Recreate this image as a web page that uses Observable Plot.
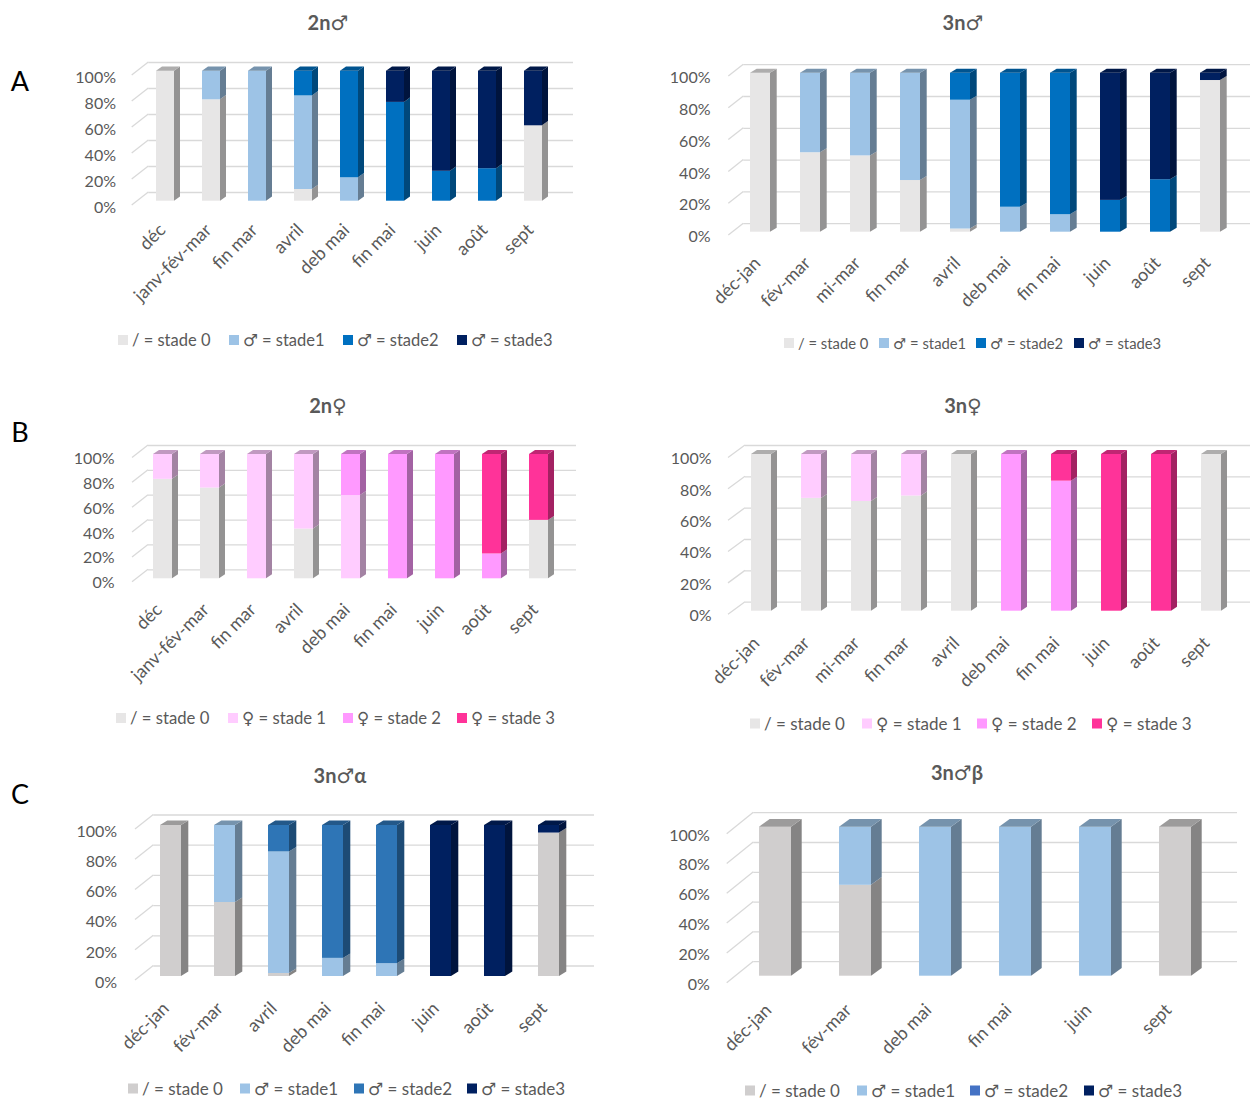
<!DOCTYPE html>
<html><head><meta charset="utf-8">
<script src="https://cdn.jsdelivr.net/npm/d3@7"></script>
<script src="https://cdn.jsdelivr.net/npm/@observablehq/plot@0.6"></script>
<style>
html,body{margin:0;padding:0;background:#fff;}
body{width:1250px;height:1099px;position:relative;overflow:hidden;font-family:Lato,"DejaVu Sans",sans-serif;}
.panel{position:absolute;width:625px;}
.title{position:absolute;transform:translate(-50%,-50%);font-weight:bold;font-size:20px;color:#595959;white-space:nowrap;}
.letter{position:absolute;transform:translate(-50%,-50%);font-size:27px;color:#000;}
.legi{position:absolute;display:flex;align-items:center;white-space:nowrap;color:#595959;transform:translateY(-50%);}
.sw{width:10px;height:10px;margin-right:4px;flex:none;}
</style></head><body>
<script>
// ---------- data ----------
const catsA2 = ["déc","janv-fév-mar","fin mar","avril","deb mai","fin mai","juin","août","sept"];
const cats3  = ["déc-jan","fév-mar","mi-mar","fin mar","avril","deb mai","fin mai","juin","août","sept"];
const catsCa = ["déc-jan","fév-mar","avril","deb mai","fin mai","juin","août","sept"];
const catsCb = ["déc-jan","fév-mar","deb mai","fin mai","juin","sept"];

// 2n male (%)
const m2_s0 = [100,78,0,9,0,0,0,0,58];
const m2_s1 = [0,22,100,72,18,0,0,0,0];
const m2_s2 = [0,0,0,19,82,76,23,25,0];
const m2_s3 = [0,0,0,0,0,24,77,75,42];
// 3n male (%)
const m3_s0 = [100,50,48,32.5,2,0,0,0,0,95.4];
const m3_s1 = [0,50,52,67.5,81,15.7,11,0,0,0];
const m3_s2 = [0,0,0,0,17,84.3,89,20,33,0];
const m3_s3 = [0,0,0,0,0,0,0,80,67,4.6];
// 2n female (%)
const f2_s0 = [80,73,0,40,0,0,0,0,47];
const f2_s1 = [20,27,100,60,67,0,0,0,0];
const f2_s2 = [0,0,0,0,33,100,100,20,0];
const f2_s3 = [0,0,0,0,0,0,0,80,53];
// 3n female (%)
const f3_s0 = [100,72,70,73.5,100,0,0,0,0,100];
const f3_s1 = [0,28,30,26.5,0,0,0,0,0,0];
const f3_s2 = [0,0,0,0,0,100,83,0,0,0];
const f3_s3 = [0,0,0,0,0,0,17,100,100,0];
// 3n male alpha (%)
const ma_s0 = [100,49,2,0,0,0,0,95];
const ma_s1 = [0,51,80.5,12,8.5,0,0,0];
const ma_s2 = [0,0,17.5,88,91.5,0,0,0];
const ma_s3 = [0,0,0,0,0,100,100,5];
// 3n male beta (%)
const mb_s0 = [100,61,0,0,0,100];
const mb_s1 = [0,39,100,100,100,0];
const mb_s2 = [0,0,0,0,0,0];
const mb_s3 = [0,0,0,0,0,0];

const yTicks = [0,20,40,60,80,100];
const legendMale   = ["/ = stade 0","♂ = stade1","♂ = stade2","♂ = stade3"];
const legendFemale = ["/ = stade 0","♀ = stade 1","♀ = stade 2","♀ = stade 3"];
const titles  = ["2n♂","3n♂","2n♀","3n♀","3n♂α","3n♂β"];
const letters = ["A","B","C"];

// ---------- styles ----------
const colMale   = ["#e7e6e6","#9dc3e6","#0070c0","#002060"];
const colFemale = ["#e7e6e6","#ffccff","#ff99ff","#ff3399"];
const colCa     = ["#d0cece","#9dc3e6","#2e75b6","#002060"];
const colCb     = ["#d0cece","#9dc3e6","#4472c4","#002060"];
const FONT = "Lato, 'DejaVu Sans', sans-serif";
const TXT = "#595959";
const GRID = "#d9d9d9";

// ---------- layout (page coordinates) ----------
const panels = [
 {title: titles[0], cats: catsA2, series: [m2_s0,m2_s1,m2_s2,m2_s3], colors: colMale, legend: legendMale,
  left: 0, top: 30, h: 300,
  bar: {x0: 152.3, step: 47, w: 18.7, y0: 200.7, y100: 70.7, ddx: 6, ddy: -4.3},
  grid: {xf: 131.7, xb: 148.3, xr: 573, dyf: 4.3, dyb: -8.7},
  tick: {xr: 115.5, dy: 6.5}, xl: {dx: -3, dy: 26},
  tpos: [328, 22], leg: {y: 340, xs: [118,229,343,457], fs: 16.5}},
 {title: titles[1], cats: cats3, series: [m3_s0,m3_s1,m3_s2,m3_s3], colors: colMale, legend: legendMale,
  left: 625, top: 30, h: 300,
  bar: {x0: 748.3, step: 50.3, w: 20, y0: 231.7, y100: 72.7, ddx: 6.7, ddy: -4},
  grid: {xf: 728.3, xb: 743.3, xr: 1250, dyf: 3.3, dyb: -8.5},
  tick: {xr: 710, dy: 4.8}, xl: {dx: -3, dy: 28},
  tpos: [963, 22], leg: {y: 343, xs: [784,879,976,1074], fs: 14.8}},
 {title: titles[2], cats: catsA2, series: [f2_s0,f2_s1,f2_s2,f2_s3], colors: colFemale, legend: legendFemale,
  left: 0, top: 415, h: 300,
  bar: {x0: 151.2, step: 47.4, w: 18.8, y0: 578.3, y100: 454, ddx: 6, ddy: -4},
  grid: {xf: 132, xb: 148, xr: 576, dyf: 3.5, dyb: -9},
  tick: {xr: 114, dy: 4.4}, xl: {dx: -4, dy: 28},
  tpos: [328, 405], leg: {y: 718, xs: [116,228,343,457], fs: 16.7}},
 {title: titles[3], cats: cats3, series: [f3_s0,f3_s1,f3_s2,f3_s3], colors: colFemale, legend: legendFemale,
  left: 625, top: 415, h: 300,
  bar: {x0: 749, step: 50.4, w: 20, y0: 610.7, y100: 454, ddx: 6, ddy: -4},
  grid: {xf: 728, xb: 745, xr: 1250, dyf: 3.5, dyb: -9},
  tick: {xr: 711, dy: 4.7}, xl: {dx: -5, dy: 29},
  tpos: [963, 405], leg: {y: 723, xs: [750,862,977,1092], fs: 17}},
 {title: titles[4], cats: catsCa, series: [ma_s0,ma_s1,ma_s2,ma_s3], colors: colCa, legend: legendMale,
  left: 0, top: 790, h: 290,
  bar: {x0: 156.7, step: 55, w: 21.6, y0: 976, y100: 825, ddx: 7.3, ddy: -4.5},
  grid: {xf: 135, xb: 153.3, xr: 594, dyf: 4, dyb: -10.5},
  tick: {xr: 116.7, dy: 6.2}, xl: {dx: -5, dy: 29},
  tpos: [340, 775], leg: {y: 1088, xs: [128,240,354,467], fs: 17}},
 {title: titles[5], cats: catsCb, series: [mb_s0,mb_s1,mb_s2,mb_s3], colors: colCb, legend: legendMale,
  left: 625, top: 790, h: 290,
  bar: {x0: 759.3, step: 80, w: 31.7, y0: 975.7, y100: 826.7, ddx: 10.7, ddy: -7.7},
  grid: {xf: 726.7, xb: 753.3, xr: 1237, dyf: 7, dyb: -14.5},
  tick: {xr: 709.3, dy: 8.3}, xl: {dx: -7, dy: 31},
  tpos: [957, 772], leg: {y: 1090, xs: [745,857,970,1084], fs: 17}}
];
const letterPos = [[20, 80], [20, 431], [20, 793]];

function stackRows(cats, series) {
  const rows = [];
  cats.forEach((c, i) => {
    let acc = 0, last = null;
    series.forEach((s, k) => {
      const v = s[i];
      if (v > 0) { last = {cat: c, stage: k, y1: acc, y2: acc + v, top: false}; rows.push(last); acc += v; }
    });
    if (last) last.top = true;
  });
  return rows;
}

function bandw(x) { return typeof x.bandwidth === "function" ? x.bandwidth() : x.bandwidth; }

function facesMark(rows, colors, ddx, ddy) {
  return (index, scales) => {
    const x = scales.x, y = scales.y, bw = bandw(x);
    const g = d3.create("svg:g");
    for (const r of rows) {
      const xa = x(r.cat), xb = xa + bw, y1 = y(r.y1), y2 = y(r.y2);
      const c = d3.color(colors[r.stage]);
      g.append("polygon")
        .attr("points", [[xb,y1],[xb+ddx,y1+ddy],[xb+ddx,y2+ddy],[xb,y2]].map(p => p.join(",")).join(" "))
        .attr("fill", c.darker(1.25).formatHex());
      if (r.top) g.append("polygon")
        .attr("points", [[xa,y2],[xa+ddx,y2+ddy],[xb+ddx,y2+ddy],[xb,y2]].map(p => p.join(",")).join(" "))
        .attr("fill", c.darker(0.8).formatHex());
    }
    return g.node();
  };
}

function diagMark(ticks, xf, xb, dyf, dyb) {
  return (index, scales) => {
    const y = scales.y;
    const g = d3.create("svg:g").attr("stroke", GRID).attr("stroke-width", 1.3);
    for (const t of ticks) g.append("line")
      .attr("x1", xf).attr("y1", y(t) + dyf).attr("x2", xb).attr("y2", y(t) + dyb);
    return g.node();
  };
}

function makePanel(p) {
  const rows = stackRows(p.cats, p.series);
  const n = p.cats.length, W = 625;
  const pi = 1 - p.bar.w / p.bar.step, po = 1;
  const r0 = p.bar.x0 - p.left - p.bar.step * po;
  const r1 = r0 + p.bar.step * (n - pi + 2 * po);
  const chart = Plot.plot({
    width: W, height: p.h,
    marginLeft: 0, marginRight: 0, marginTop: 0, marginBottom: 0,
    style: {background: "transparent", overflow: "visible"},
    x: {type: "band", domain: p.cats, range: [r0, r1], paddingInner: pi, paddingOuter: po, align: 0.5, axis: null},
    y: {domain: [0, 100], range: [p.bar.y0 - p.top, p.bar.y100 - p.top], axis: null},
    color: {type: "ordinal", domain: [0, 1, 2, 3], range: p.colors},
    marks: [
      Plot.ruleY(yTicks, {y: d => d, dy: p.grid.dyb, stroke: GRID, strokeWidth: 1.3,
        insetLeft: p.grid.xb - p.left, insetRight: W - (p.grid.xr - p.left)}),
      diagMark(yTicks, p.grid.xf - p.left, p.grid.xb - p.left, p.grid.dyf, p.grid.dyb),
      Plot.barY(rows, {x: "cat", y1: "y1", y2: "y2", fill: "stage"}),
      facesMark(rows, p.colors, p.bar.ddx, p.bar.ddy),
      Plot.text(yTicks, {y: d => d, text: d => d + "%", frameAnchor: "left", textAnchor: "end",
        dx: p.tick.xr - p.left, dy: p.tick.dy, fill: TXT, fontSize: 16, fontFamily: FONT}),
      Plot.text(p.cats, {x: d => d, y: () => 0, text: d => d, rotate: -45, textAnchor: "end",
        dx: p.xl.dx, dy: p.xl.dy, fill: TXT, fontSize: 18, fontFamily: FONT})
    ]
  });
  const div = document.createElement("div");
  div.className = "panel";
  div.style.left = p.left + "px";
  div.style.top = p.top + "px";
  div.style.height = p.h + "px";
  div.appendChild(chart);
  document.body.appendChild(div);
}

panels.forEach(makePanel);

// titles, letters, legends
panels.forEach(p => {
  const t = document.createElement("div");
  t.className = "title"; t.textContent = p.title;
  t.style.left = p.tpos[0] + "px"; t.style.top = p.tpos[1] + "px";
  document.body.appendChild(t);
  p.legend.forEach((lab, i) => {
    const it = document.createElement("div");
    it.className = "legi";
    it.style.left = p.leg.xs[i] + "px"; it.style.top = p.leg.y + "px";
    it.style.fontSize = p.leg.fs + "px";
    const sw = document.createElement("div");
    sw.className = "sw"; sw.style.background = p.colors[i];
    const tx = document.createElement("span"); tx.textContent = lab;
    it.appendChild(sw); it.appendChild(tx);
    document.body.appendChild(it);
  });
});
letters.forEach((L, i) => {
  const d = document.createElement("div");
  d.className = "letter"; d.textContent = L;
  d.style.left = letterPos[i][0] + "px"; d.style.top = letterPos[i][1] + "px";
  document.body.appendChild(d);
});
</script>
</body></html>
